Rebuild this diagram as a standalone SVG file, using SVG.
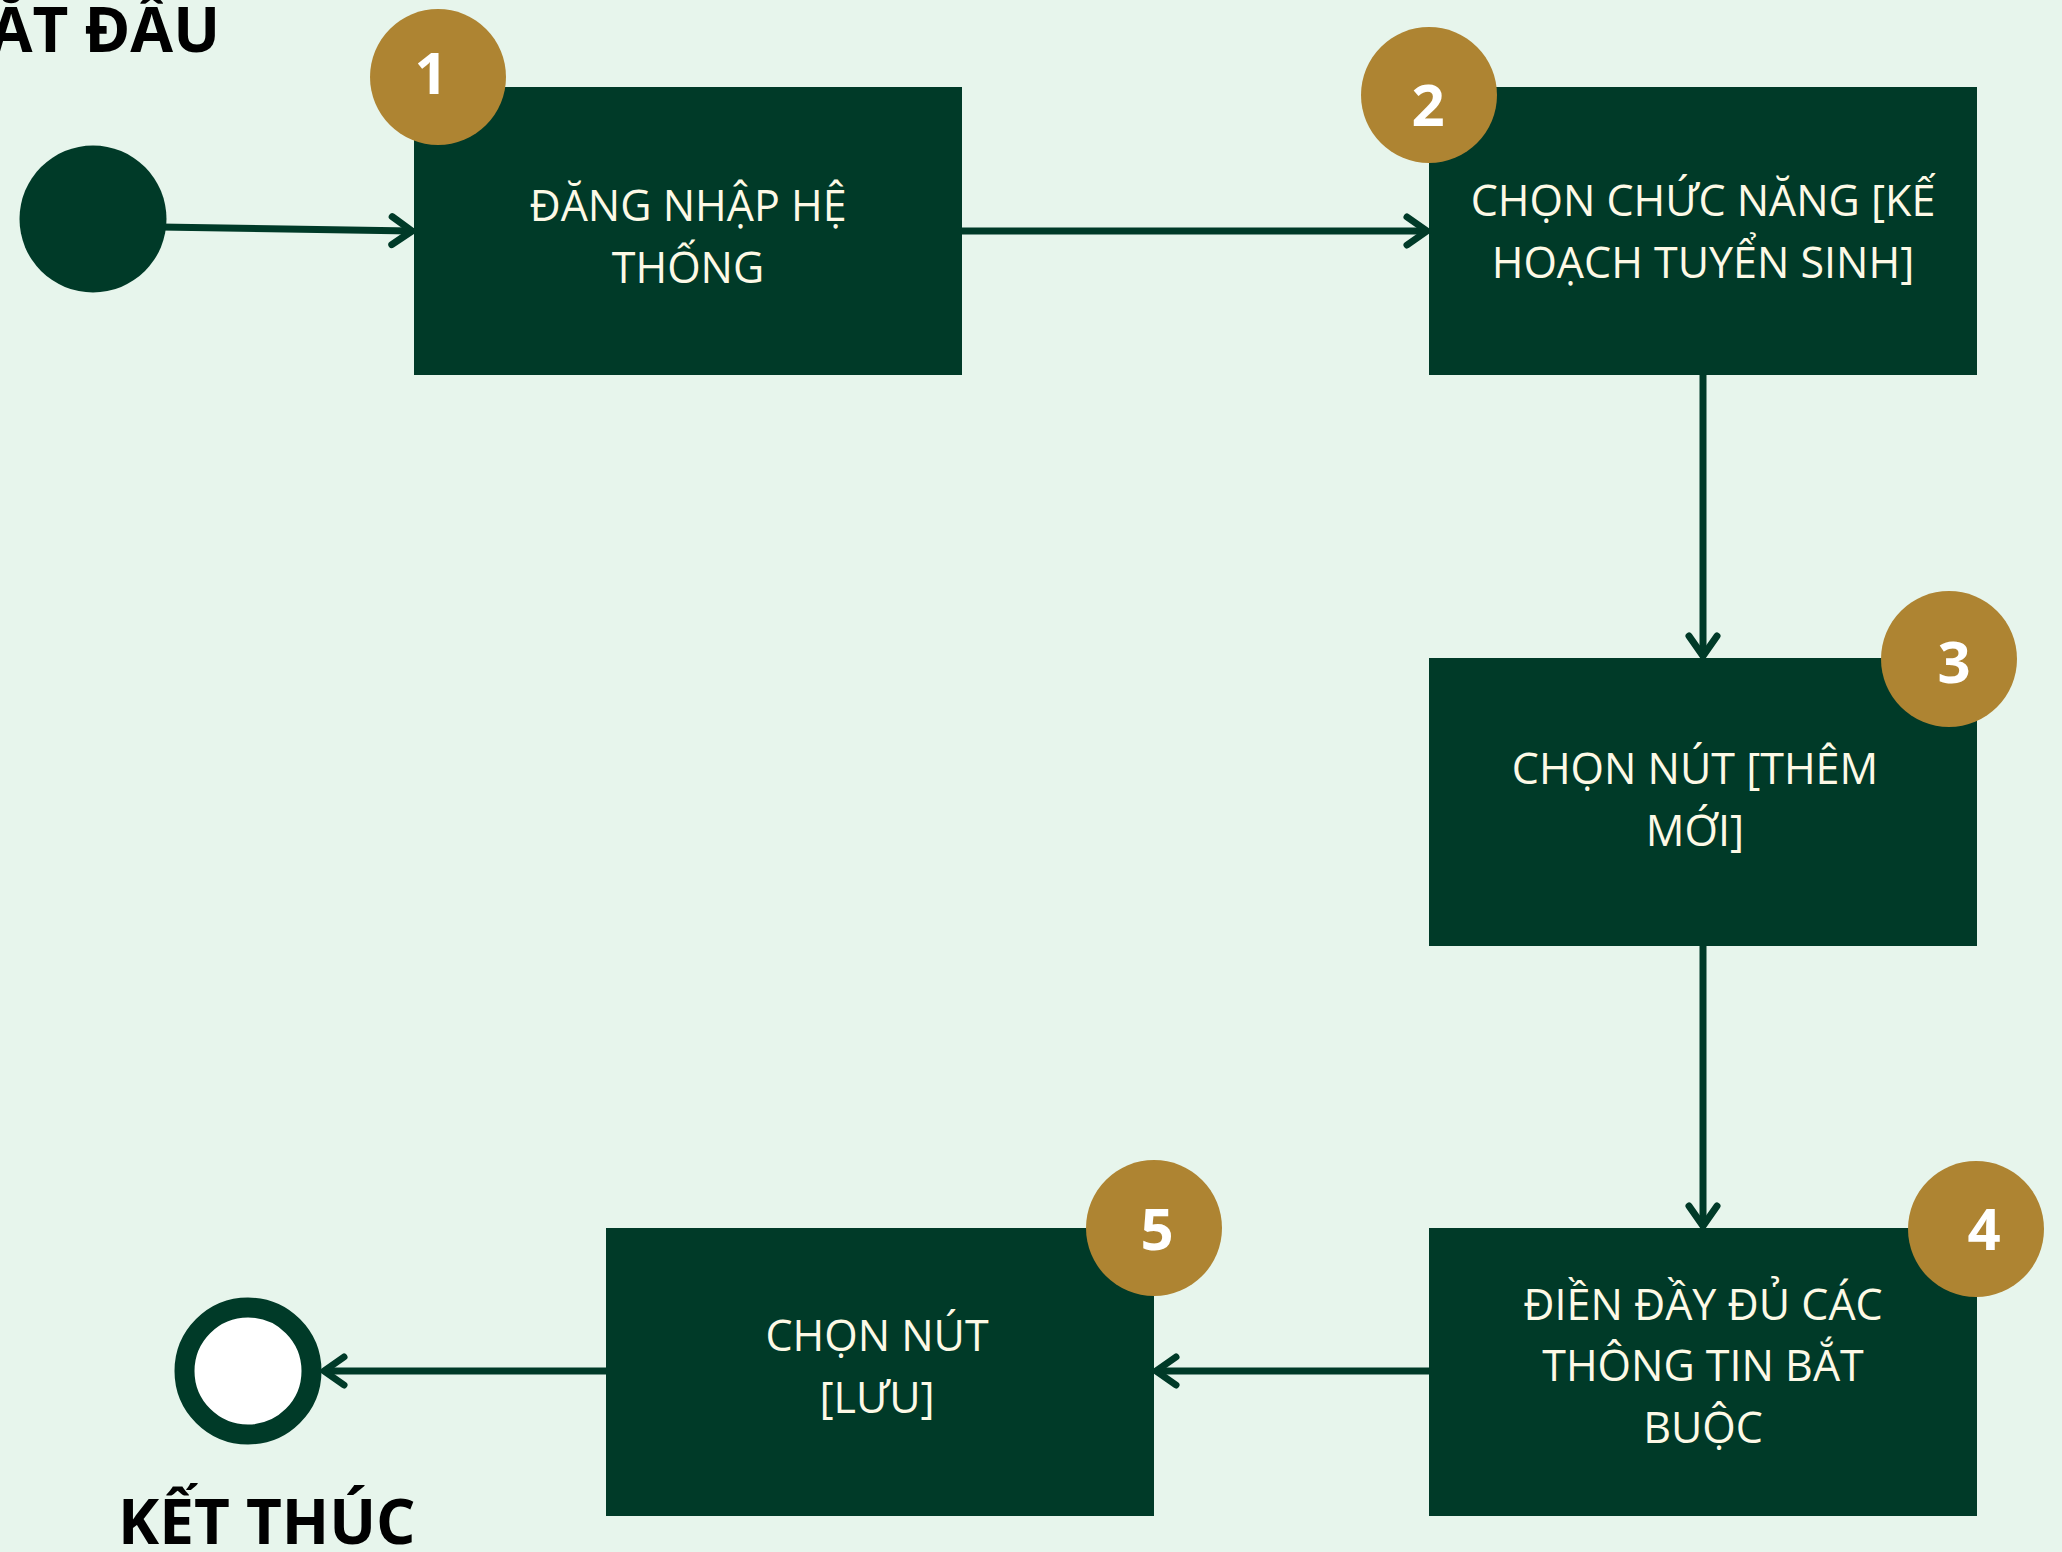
<svg xmlns="http://www.w3.org/2000/svg" width="2062" height="1552" viewBox="0 0 2062 1552">
<style>
.box{fill:#003A28}
.badge{fill:#AE8432}
.lbl{font-family:"Open Sans","Noto Sans","DejaVu Sans",sans-serif;font-size:43px;fill:#FDF9E6;text-anchor:middle}
.num{font-family:"Open Sans","Noto Sans","DejaVu Sans",sans-serif;font-size:58px;font-weight:700;fill:#FFFFFF;text-anchor:middle}
.title{font-family:"Open Sans","Noto Sans","DejaVu Sans",sans-serif;font-size:62px;font-weight:700;fill:#000000}
.conn{fill:none;stroke:#003A28;stroke-width:7}
</style>
<defs>
<marker id="arr" markerUnits="userSpaceOnUse" viewBox="-30 -20 40 40" refX="0" refY="0" markerWidth="40" markerHeight="40" orient="auto" overflow="visible">
<path d="M-20,-14 L0,0 L-20,14" fill="none" stroke="#003A28" stroke-width="7" stroke-linecap="round" stroke-linejoin="round"/>
</marker>
</defs>
<rect x="0" y="0" width="2062" height="1552" fill="#E7F5EC"/>

<g id="connectors">
<line class="conn" x1="160" y1="227" x2="412" y2="231" marker-end="url(#arr)"/>
<line class="conn" x1="962" y1="231" x2="1427" y2="231" marker-end="url(#arr)"/>
<line class="conn" x1="1703" y1="375" x2="1703" y2="656" marker-end="url(#arr)"/>
<line class="conn" x1="1703" y1="946" x2="1703" y2="1226" marker-end="url(#arr)"/>
<line class="conn" x1="1429" y1="1371" x2="1156" y2="1371" marker-end="url(#arr)"/>
<line class="conn" x1="606" y1="1371" x2="324" y2="1371" marker-end="url(#arr)"/>
</g>

<g id="start">
<circle cx="93" cy="219" r="73.5" fill="#003A28"/>
<text class="title" x="220" y="52" text-anchor="end">BẮT ĐẦU</text>
</g>

<g id="node1">
<rect class="box" x="414" y="87" width="548" height="288"/>
<text class="lbl" x="688" y="221">ĐĂNG NHẬP HỆ</text>
<text class="lbl" x="688" y="283">THỐNG</text>
<circle class="badge" cx="438" cy="77" r="68"/>
<text class="num" x="431" y="94">1</text>
</g>

<g id="node2">
<rect class="box" x="1429" y="87" width="548" height="288"/>
<text class="lbl" x="1703" y="216">CHỌN CHỨC NĂNG [KẾ</text>
<text class="lbl" x="1703" y="278">HOẠCH TUYỂN SINH]</text>
<circle class="badge" cx="1429" cy="95" r="68"/>
<text class="num" x="1428" y="126">2</text>
</g>

<g id="node3">
<rect class="box" x="1429" y="658" width="548" height="288"/>
<text class="lbl" x="1695" y="784">CHỌN NÚT [THÊM</text>
<text class="lbl" x="1695" y="846">MỚI]</text>
<circle class="badge" cx="1949" cy="659" r="68"/>
<text class="num" x="1954" y="683">3</text>
</g>

<g id="node4">
<rect class="box" x="1429" y="1228" width="548" height="288"/>
<text class="lbl" x="1703" y="1320">ĐIỀN ĐẦY ĐỦ CÁC</text>
<text class="lbl" x="1703" y="1381">THÔNG TIN BẮT</text>
<text class="lbl" x="1703" y="1443">BUỘC</text>
<circle class="badge" cx="1976" cy="1229" r="68"/>
<text class="num" x="1984" y="1250">4</text>
</g>

<g id="node5">
<rect class="box" x="606" y="1228" width="548" height="288"/>
<text class="lbl" x="877" y="1351">CHỌN NÚT</text>
<text class="lbl" x="877" y="1413">[LƯU]</text>
<circle class="badge" cx="1154" cy="1228" r="68"/>
<text class="num" x="1157" y="1250">5</text>
</g>

<g id="end">
<circle cx="248" cy="1371" r="63.5" fill="#FFFFFF" stroke="#003A28" stroke-width="20"/>
<text class="title" x="118" y="1544">KẾT THÚC</text>
</g>
</svg>
